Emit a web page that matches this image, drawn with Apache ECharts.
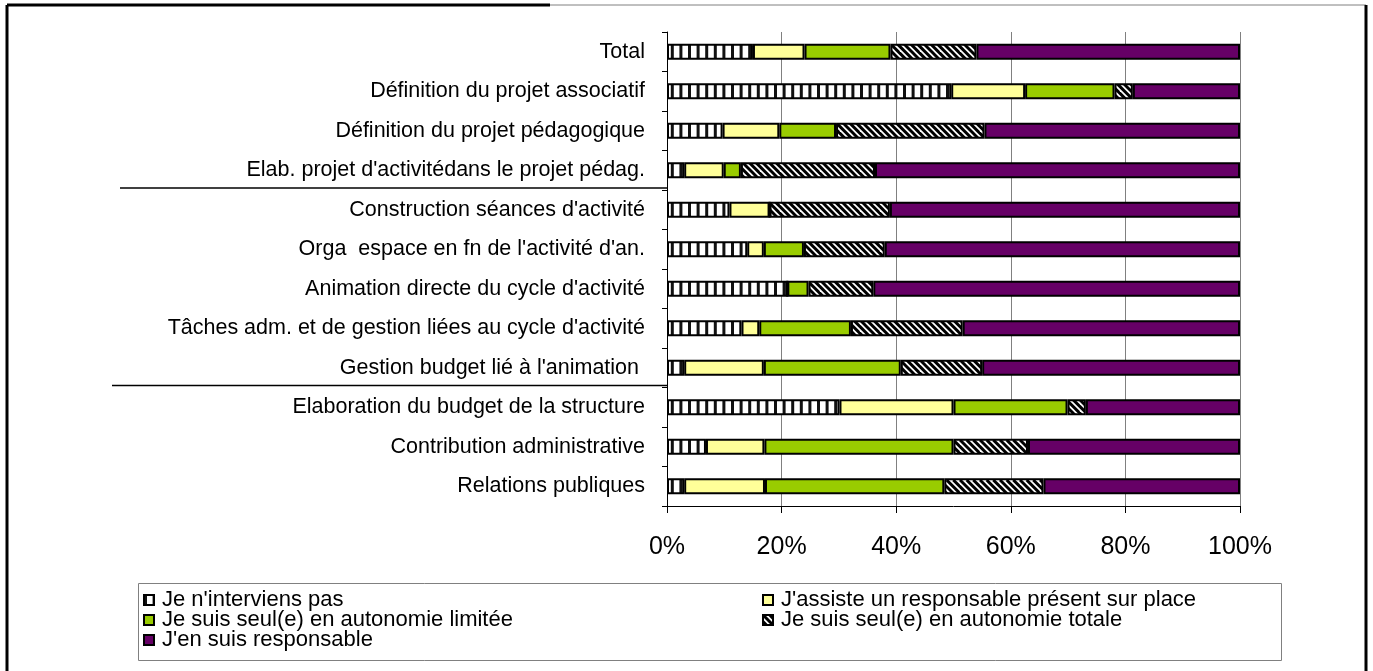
<html lang="fr">

<head>
  <meta charset="UTF-8">
  <title>Répartition des tâches</title>
  <style>
    body { margin: 0; background: #fff; }
    #chart { width: 1373px; height: 671px; }
  </style>
</head>

<body>
  <div id="chart"></div>

  <script src="https://cdn.jsdelivr.net/npm/echarts@6.0.0/dist/echarts.min.js"></script>
  <script>
    var categories = [
      'Total',
      'Définition du projet associatif',
      'Définition du projet pédagogique',
      "Elab. projet d'activitédans le projet pédag.",
      "Construction séances d'activité",
      "Orga  espace en fn de l'activité d'an.",
      "Animation directe du cycle d'activité",
      "Tâches adm. et de gestion liées au cycle d'activité",
      "Gestion budget lié à l'animation ",
      'Elaboration du budget de la structure',
      'Contribution administrative',
      'Relations publiques'
    ]
    var seriesNames = [
      "Je n'interviens pas",
      "J'assiste un responsable présent sur place",
      'Je suis seul(e) en autonomie limitée',
      'Je suis seul(e) en autonomie totale',
      "J'en suis responsable"
    ]
    var nIntervPas   = [15, 49.6, 9.7, 3.0, 10.9, 14.0, 21.0, 13.0, 3.0, 30.1, 6.8, 3.0]
    var assiste      = [9, 12.9, 9.9, 6.9, 7.0, 2.9, 0, 3.1, 13.9, 19.9, 10.2, 14.1]
    var autoLimitee  = [15, 15.6, 9.9, 3.0, 0, 7.0, 3.7, 16.0, 23.9, 19.9, 33.0, 31.3]
    var autoTotale   = [15, 3.2, 25.9, 23.4, 21.0, 14.1, 11.3, 19.5, 14.2, 3.2, 13.0, 17.3]
    var responsable  = [46, 18.7, 44.6, 63.7, 61.1, 62.0, 64.0, 48.4, 45.0, 26.9, 37.0, 34.3]
    var xTicks = [0, 20, 40, 60, 80, 100]

    // motifs : rayures verticales et hachures diagonales
    function stripesV() {
      var c = document.createElement('canvas')
      c.width = 43; c.height = 8
      var g = c.getContext('2d')
      g.fillStyle = '#fff'; g.fillRect(0, 0, 43, 8)
      g.fillStyle = '#111'
      for (var i = 0; i < 5; i++) g.fillRect(i * 8.6, 0, 3, 8)
      return { image: c, repeat: 'repeat' }
    }
    function stripesD() {
      var c = document.createElement('canvas')
      c.width = 20; c.height = 20
      var g = c.getContext('2d')
      g.fillStyle = '#fff'; g.fillRect(0, 0, 20, 20)
      g.strokeStyle = '#000'; g.lineWidth = 3
      var p = 20 / 3
      for (var k = -4; k <= 4; k++) {
        g.beginPath()
        g.moveTo(k * p, 0)
        g.lineTo(k * p + 20, 20)
        g.stroke()
      }
      return { image: c, repeat: 'repeat' }
    }

    var fills = [stripesV(), '#FFFF99', '#99CC00', stripesD(), '#660066']
    var values = [nIntervPas, assiste, autoLimitee, autoTotale, responsable]

    var series = values.map(function (v, i) {
      return {
        name: seriesNames[i],
        type: 'bar',
        stack: 'all',
        barWidth: 16,
        data: v,
        itemStyle: { color: fills[i], borderColor: '#000', borderWidth: 2 }
      }
    })

    var font = 'Liberation Sans, Arial, sans-serif'
    var legendText = { fontSize: 22, lineHeight: 17, color: '#000', fontFamily: font, padding: [0, 0, 0, 3] }
    const chart = echarts.init(document.querySelector('#chart'))
    chart.setOption({
      animation: false,
      grid: { left: 667, right: 133, top: 32, bottom: 165 },
      xAxis: {
        type: 'value',
        min: 0,
        max: 100,
        interval: 20,
        axisLine: { show: true, lineStyle: { color: '#000', width: 1 } },
        axisTick: { show: true, length: 7, lineStyle: { color: '#000' } },
        splitLine: { show: true, lineStyle: { color: '#808080', width: 1 } },
        axisLabel: {
          margin: 29,
          fontSize: 25,
          color: '#000',
          fontFamily: font,
          formatter: function (v) { return xTicks.indexOf(v) >= 0 ? v + '%' : '' }
        }
      },
      yAxis: {
        type: 'category',
        inverse: true,
        data: categories,
        axisLine: { show: true, lineStyle: { color: '#000', width: 1 } },
        axisTick: { show: true, inside: false, length: 5, lineStyle: { color: '#000' } },
        axisLabel: { margin: 22, fontSize: 21.5, color: '#000', fontFamily: font }
      },
      legend: [
        {
          data: [seriesNames[0], seriesNames[2], seriesNames[4]],
          orient: 'vertical', left: 143, top: 589,
          itemWidth: 10, itemHeight: 10, itemGap: -2, padding: 0,
          icon: 'rect',
          selectedMode: false,
          textStyle: legendText
        },
        {
          data: [seriesNames[1], seriesNames[3]],
          orient: 'vertical', left: 762, top: 589,
          itemWidth: 10, itemHeight: 10, itemGap: -2, padding: 0,
          icon: 'rect',
          selectedMode: false,
          textStyle: legendText
        }
      ],
      series: series
    })

    // cadres et séparateurs de groupes
    function boundary(i) {
      return (chart.convertToPixel({ yAxisIndex: 0 }, categories[i]) +
              chart.convertToPixel({ yAxisIndex: 0 }, categories[i + 1])) / 2 - 2
    }
    var y1 = boundary(3)
    var y2 = boundary(8)
    chart.setOption({
      graphic: [
        { type: 'line', shape: { x1: 7, y1: 5, x2: 550, y2: 5 }, style: { stroke: '#000', lineWidth: 3 } },
        { type: 'line', shape: { x1: 550, y1: 5, x2: 1366, y2: 5 }, style: { stroke: '#808080', lineWidth: 1 } },
        { type: 'line', shape: { x1: 7, y1: 5, x2: 7, y2: 671 }, style: { stroke: '#000', lineWidth: 3 } },
        { type: 'line', shape: { x1: 1366, y1: 5, x2: 1366, y2: 671 }, style: { stroke: '#000', lineWidth: 3 } },
        { type: 'rect', shape: { x: 138.5, y: 583.5, width: 1143, height: 77 }, style: { fill: 'none', stroke: '#808080', lineWidth: 1 } },
        { type: 'line', shape: { x1: 120, y1: y1, x2: 667, y2: y1 }, style: { stroke: '#000', lineWidth: 1.5 } },
        { type: 'line', shape: { x1: 112, y1: y2, x2: 667, y2: y2 }, style: { stroke: '#000', lineWidth: 1.5 } }
      ]
    })
  </script>
</body>

</html>
